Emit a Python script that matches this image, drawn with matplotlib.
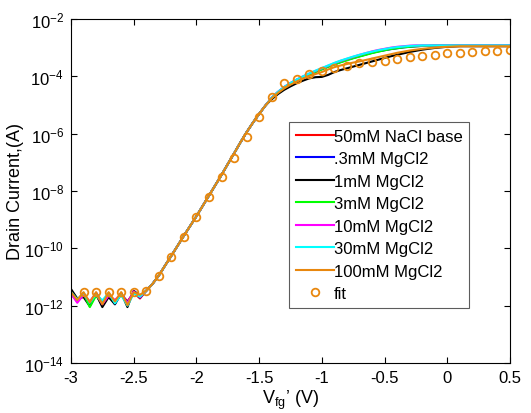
import numpy as np
import matplotlib
matplotlib.use("Agg")
import matplotlib.pyplot as plt
from matplotlib.ticker import FixedLocator, LogFormatterSciNotation, NullLocator

plt.rcParams['font.family'] = ['Liberation Sans', 'DejaVu Sans']
plt.rcParams['mathtext.fontset'] = 'custom'
plt.rcParams['mathtext.rm'] = 'Liberation Sans'
plt.rcParams['mathtext.it'] = 'Liberation Sans:italic'
plt.rcParams['mathtext.default'] = 'regular'

# ---------------- data (log10 of drain current, A) ----------------
vg = np.round(np.arange(-3.0, 0.5001, 0.05), 2)  # 71 gate voltages

# subthreshold floor, Vg = -3.00 ... -2.45
floor_red     = [-11.55, -11.85, -11.60, -11.95, -11.62, -12.00, -11.58, -11.90, -11.60, -11.85, -11.55, -11.75]
floor_blue    = [-11.50, -11.80, -11.65, -11.90, -11.55, -11.88, -11.62, -11.95, -11.58, -11.90, -11.52, -11.72]
floor_black   = [-11.42, -11.75, -11.70, -12.02, -11.60, -12.05, -11.70, -11.95, -11.55, -12.05, -11.48, -11.65]
floor_green   = [-11.60, -11.82, -11.58, -12.05, -11.65, -11.92, -11.60, -11.88, -11.62, -11.95, -11.55, -11.70]
floor_magenta = [-11.58, -11.90, -11.62, -11.85, -11.57, -11.95, -11.65, -11.80, -11.60, -11.92, -11.50, -11.70]
floor_cyan    = [-11.52, -11.78, -11.55, -11.90, -11.60, -11.82, -11.55, -11.92, -11.62, -12.00, -11.58, -11.68]
floor_orange  = [-11.53, -11.80, -11.53, -11.88, -11.53, -11.95, -11.53, -11.85, -11.53, -11.98, -11.53, -11.62]

# steep rise, Vg = -2.40 ... -1.45 (common to all solutions)
rise = [-11.48, -11.24, -10.95, -10.60, -10.26, -9.91, -9.56, -9.22, -8.88, -8.52,
        -8.16, -7.80, -7.44, -7.06, -6.69, -6.31, -5.95, -5.62, -5.31, -5.02]

# above threshold, Vg = -1.40 ... 0.50
up_red     = [-4.75, -4.55, -4.38, -4.24, -4.12, -4.02, -3.92, -3.83, -3.74, -3.65,
              -3.57, -3.49, -3.42, -3.35, -3.29, -3.23, -3.17, -3.12, -3.08, -3.04,
              -3.01, -2.98, -2.96, -2.95, -2.94, -2.94, -2.93, -2.93, -2.93, -2.93,
              -2.93, -2.93, -2.93, -2.93, -2.93, -2.93, -2.93, -2.93, -2.93]
up_blue    = [-4.76, -4.56, -4.39, -4.25, -4.13, -4.03, -3.93, -3.84, -3.75, -3.66,
              -3.58, -3.50, -3.43, -3.36, -3.30, -3.24, -3.18, -3.13, -3.09, -3.05,
              -3.02, -2.99, -2.97, -2.95, -2.94, -2.94, -2.93, -2.93, -2.93, -2.93,
              -2.93, -2.93, -2.93, -2.93, -2.93, -2.93, -2.93, -2.93, -2.93]
up_black   = [-4.80, -4.62, -4.47, -4.35, -4.24, -4.15, -4.07, -4.03, -4.02, -3.95,
              -3.85, -3.78, -3.72, -3.66, -3.60, -3.54, -3.48, -3.42, -3.36, -3.30,
              -3.25, -3.20, -3.15, -3.11, -3.07, -3.04, -3.01, -2.99, -2.97, -2.96,
              -2.95, -2.95, -2.95, -2.95, -2.95, -2.95, -2.95, -2.95, -2.95]
up_green   = [-4.76, -4.56, -4.40, -4.26, -4.14, -4.04, -3.94, -3.85, -3.76, -3.67,
              -3.59, -3.51, -3.44, -3.37, -3.31, -3.25, -3.19, -3.14, -3.09, -3.05,
              -3.02, -2.99, -2.97, -2.95, -2.94, -2.94, -2.93, -2.93, -2.93, -2.93,
              -2.93, -2.93, -2.93, -2.93, -2.93, -2.93, -2.93, -2.93, -2.93]
up_magenta = [-4.74, -4.54, -4.37, -4.23, -4.11, -4.00, -3.90, -3.81, -3.72, -3.63,
              -3.54, -3.46, -3.39, -3.32, -3.25, -3.19, -3.13, -3.08, -3.04, -3.00,
              -2.97, -2.95, -2.93, -2.92, -2.92, -2.92, -2.92, -2.92, -2.92, -2.92,
              -2.92, -2.92, -2.92, -2.92, -2.92, -2.92, -2.92, -2.92, -2.92]
up_cyan    = [-4.74, -4.54, -4.37, -4.23, -4.11, -4.00, -3.90, -3.80, -3.71, -3.62,
              -3.53, -3.45, -3.38, -3.31, -3.25, -3.19, -3.14, -3.09, -3.05, -3.01,
              -2.98, -2.96, -2.94, -2.93, -2.92, -2.92, -2.92, -2.92, -2.92, -2.92,
              -2.92, -2.92, -2.92, -2.92, -2.92, -2.92, -2.92, -2.92, -2.92]
up_orange  = [-4.77, -4.58, -4.42, -4.29, -4.18, -4.08, -3.99, -3.92, -3.85, -3.76,
              -3.68, -3.62, -3.57, -3.52, -3.48, -3.43, -3.38, -3.33, -3.28, -3.23,
              -3.18, -3.14, -3.10, -3.07, -3.04, -3.02, -3.00, -2.98, -2.97, -2.96,
              -2.95, -2.95, -2.95, -2.95, -2.95, -2.95, -2.95, -2.95, -2.95]

labels = ['50mM NaCl base', '.3mM MgCl2', '1mM MgCl2', '3mM MgCl2',
          '10mM MgCl2', '30mM MgCl2', '100mM MgCl2']
colors = ['#FF0000', '#0000FF', '#000000', '#00FF00', '#FF00FF', '#00FFFF', '#E8870E']
floors = [floor_red, floor_blue, floor_black, floor_green, floor_magenta, floor_cyan, floor_orange]
uppers = [up_red, up_blue, up_black, up_green, up_magenta, up_cyan, up_orange]

# model fit, Vg = -2.9 ... 0.5 step 0.1
fit_vg = np.round(np.arange(-2.9, 0.5001, 0.1), 2)
fit_log = [-11.53, -11.53, -11.53, -11.53, -11.53, -11.48, -10.98, -10.29, -9.59, -8.92,
           -8.22, -7.52, -6.85, -6.10, -5.41, -4.71, -4.24, -4.09, -3.92, -3.80,
           -3.71, -3.63, -3.53, -3.49, -3.45, -3.40, -3.34, -3.30, -3.26, -3.20,
           -3.17, -3.15, -3.13, -3.12, -3.09]

xticks = [-3, -2.5, -2, -1.5, -1, -0.5, 0, 0.5]
xtick_labels = ['-3', '-2.5', '-2', '-1.5', '-1', '-0.5', '0', '0.5']
yticks = [1e-14, 1e-12, 1e-10, 1e-8, 1e-6, 1e-4, 1e-2]

# ---------------- plot ----------------
fig = plt.figure(figsize=(5.31, 4.14), dpi=100)
ax = fig.add_axes([71/531, 50/414, 439/531, 344/414])

for fl, up, c, lab in zip(floors, uppers, colors, labels):
    logi = np.array(fl + rise + up)
    ax.plot(vg, 10.0 ** logi, color=c, lw=1.5, label=lab)

ax.plot(fit_vg, 10.0 ** np.array(fit_log), linestyle='none', marker='o', ms=5.5,
        mfc='none', mec='#E8870E', mew=1.3, label='fit')

ax.set_yscale('log')
ax.set_xlim(-3, 0.5)
ax.set_ylim(1e-14, 1e-2)
ax.xaxis.set_major_locator(FixedLocator(xticks))
ax.set_xticklabels(xtick_labels)
ax.yaxis.set_major_locator(FixedLocator(yticks))
ax.yaxis.set_major_formatter(LogFormatterSciNotation())
ax.yaxis.set_minor_locator(NullLocator())
ax.tick_params(direction='in', top=True, right=True, length=4, width=0.8,
               labelsize=12, pad=5)
for s in ax.spines.values():
    s.set_linewidth(0.8)

ax.set_xlabel('V$_{fg}$\u2019 (V)', fontsize=13, labelpad=2)
ax.set_ylabel('Drain Current,(A)', fontsize=13, labelpad=0)

leg = ax.legend(loc='upper left', bbox_to_anchor=(218/439, 1 - 103/344),
                fontsize=12, frameon=True, fancybox=False, edgecolor='#333333',
                handlelength=2.3, handletextpad=0.0, labelspacing=0.45,
                borderpad=0.4, borderaxespad=0.0)
leg.get_frame().set_linewidth(0.8)

fig.savefig('out.png', dpi=100)
